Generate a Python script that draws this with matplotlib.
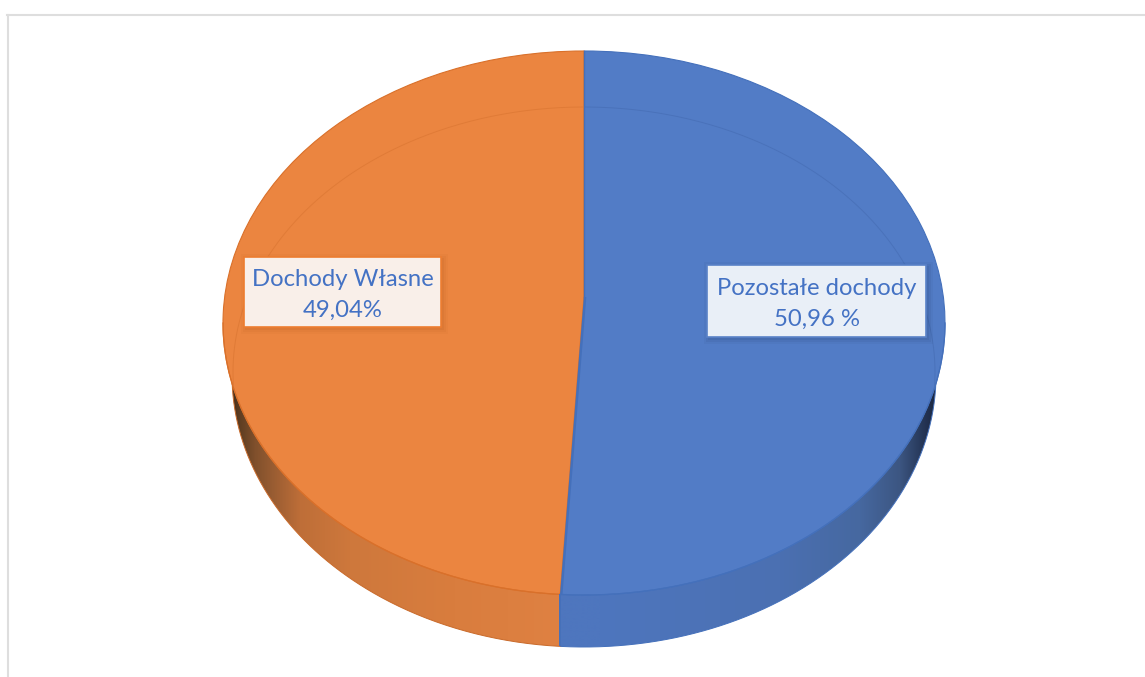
import numpy as np
import matplotlib
matplotlib.use("Agg")
import matplotlib.pyplot as plt
from matplotlib.patches import Rectangle, PathPatch
from matplotlib.path import Path
from matplotlib.lines import Line2D

categories = ["Pozostałe dochody", "Dochody Własne"]
values = [50.96, 49.04]
value_labels = ["50,96 %", "49,04%"]

W, H = 1145, 677
CX, CY, RX, RY = 584, 323, 361, 272
BOTTOM_CY, BOTTOM_RX, BOTTOM_RY = 375, 352, 272
APEX_SHIFT = 26 / RY
colors = ["#527cc6", "#eb8540"]
edges = ["#4470bb", "#d9702a"]

plt.rcParams["font.family"] = ["Lato", "DejaVu Sans"]
fig = plt.figure(figsize=(W / 100, H / 100), dpi=100)
ax = fig.add_axes([0, 0, 1, 1])

wedges, _ = ax.pie(values, startangle=90, counterclock=False, colors=colors,
                   radius=1, wedgeprops=dict(linewidth=0), labels=None)
ax.set_aspect("auto")
ax.set_xlim(-CX / RX, (W - CX) / RX)
ax.set_ylim((CY - H) / RY, CY / RY)
ax.axis("off")


def px(x, y):
    return (x - CX) / RX, (CY - y) / RY


# perspective: slices radiate from an apex above the ellipse centre
raw = np.radians(wedges[0].theta1)
b = APEX_SHIFT * np.sin(raw)
t = -b + np.sqrt(b * b - (APEX_SHIFT ** 2 - 1))
sx, sy = t * np.cos(raw), APEX_SHIFT + t * np.sin(raw)
split_deg = np.degrees(np.arctan2(sy, sx))
wedges[0].set_theta1(split_deg)
wedges[1].set_theta2(split_deg)
for w, e in zip(wedges, edges):
    v = w.get_path().vertices
    v[np.all(np.isclose(v, 0), axis=1)] = [0, APEX_SHIFT]
    w.set_zorder(3)
    w.set_edgecolor(e)
    w.set_linewidth(0.8)

# extruded rim, shaded towards the silhouette (shade stops in pixel x)
orange_stops = ([232, 240, 255, 272, 300, 350, 455, 561],
                [(70, 46, 26), (96, 62, 34), (128, 80, 44), (152, 92, 50), (190, 110, 56),
                 (206, 120, 60), (217, 125, 62), (223, 129, 66)])
blue_stops = ([560, 600, 780, 860, 900, 925, 936],
              [(78, 118, 190), (78, 118, 190), (75, 112, 178), (70, 104, 160), (60, 86, 130),
               (36, 52, 84), (28, 40, 66)])


def side(a0, a1, x0, x1, stops, zorder=1):
    th = np.radians(np.linspace(a0, a1, 300))
    top_x, top_y = np.cos(th), np.sin(th)
    bot_x = BOTTOM_RX / RX * np.cos(th)
    bot_y = (CY - BOTTOM_CY) / RY + BOTTOM_RY / RY * np.sin(th)
    poly = np.column_stack([np.r_[top_x, bot_x[::-1]], np.r_[top_y, bot_y[::-1]]])
    xs = np.arange(x0, x1 + 1)
    grad = np.stack([np.interp(xs, stops[0], [c[k] for c in stops[1]]) for k in range(3)], axis=1)
    im = ax.imshow((grad[None, :, :] / 255), aspect="auto", zorder=zorder, interpolation="bilinear",
                   extent=[(x0 - CX) / RX, (x1 - CX) / RX, (CY - 660) / RY, (CY - 370) / RY])
    patch = PathPatch(Path(poly, closed=False), transform=ax.transData, fc="none", ec="none")
    ax.add_patch(patch)
    im.set_clip_path(patch)
    ax.plot(bot_x, bot_y, color="#c96a2a" if x0 < 400 else "#4470bb", lw=0.7, zorder=2)


split_mod = split_deg % 360
side(180, split_mod, 225, int(round(CX + sx * RX)) + 1, orange_stops)
side(split_mod, 360, int(round(CX + sx * RX)), 945, blue_stops)
ax.set_xlim(-CX / RX, (W - CX) / RX)
ax.set_ylim((CY - H) / RY, CY / RY)

# rim line on the front of the top face
for i, (a0, a1) in enumerate([(split_mod, 360), (180, split_mod)]):
    th = np.radians(np.linspace(a0, a1, 200))
    ax.plot(np.cos(th), np.sin(th), color=edges[i], lw=0.9, zorder=4)

# slice boundary highlight
ax.plot([sx + 0.003, 0.003], [sy, APEX_SHIFT], color="#4470bb", lw=1.8, zorder=5, solid_capstyle="butt")
ax.plot([0, 0], [1, APEX_SHIFT], color="#4470bb", lw=1.0, zorder=5)
bot_sy = (CY - BOTTOM_CY) / RY + BOTTOM_RY / RY * np.sin(np.radians(split_deg))
ax.plot([sx, sx], [sy, bot_sy], color="#4470bb", lw=1.4, zorder=5, solid_capstyle="butt")

# inner bevel line
th = np.radians(np.linspace(-3, 183, 400))
bx = 351 / RX * np.cos(th)
by = (CY - 372) / RY + 265 / RY * np.sin(th)
right = bx > 0
ax.plot(bx[right], by[right], color="#4a72ba", lw=0.7, zorder=6)
ax.plot(bx[~right], by[~right], color="#e07b37", lw=0.7, zorder=6)


def label(box, text, face, edge, shadow):
    x0, y0, x1, y1 = box
    for grow, alpha in [(5, 0.06), (3, 0.08), (1, 0.10)]:
        xa, ya = px(x0 - grow + 2, y1 + grow + 2)
        xb, yb = px(x1 + grow + 2, y0 - grow + 2)
        ax.add_patch(Rectangle((xa, ya), xb - xa, yb - ya, fc=shadow, ec="none", alpha=alpha, zorder=7))
    xa, ya = px(x0, y1)
    xb, yb = px(x1, y0)
    ax.add_patch(Rectangle((xa, ya), xb - xa, yb - ya, fc=face, ec=edge, lw=1.2, zorder=8))
    tx, ty = px((x0 + x1) / 2, (y0 + y1) / 2 + 3)
    ax.text(tx, ty, text, ha="center", va="center", fontsize=17.2, color="#4472c4",
            linespacing=1.6, zorder=9)


label((707, 265, 926, 337), f"{categories[0]}\n{value_labels[0]}", "#e9eff7", "#5a82c8", "#1f3864")
label((244, 257, 441, 327), f"{categories[1]}\n{value_labels[1]}", "#f9efe9", "#ed7d31", "#a8541a")

# chart frame, clipped by the screenshot on the right and at the bottom
fig.add_artist(Line2D([7.5 / W, 7.5 / W], [0, 1 - 14.5 / H], color="#dedede", lw=1.5))
fig.add_artist(Line2D([7 / W, 1], [1 - 14.5 / H, 1 - 14.5 / H], color="#dedede", lw=1.5))

fig.savefig("out.png", dpi=100)
